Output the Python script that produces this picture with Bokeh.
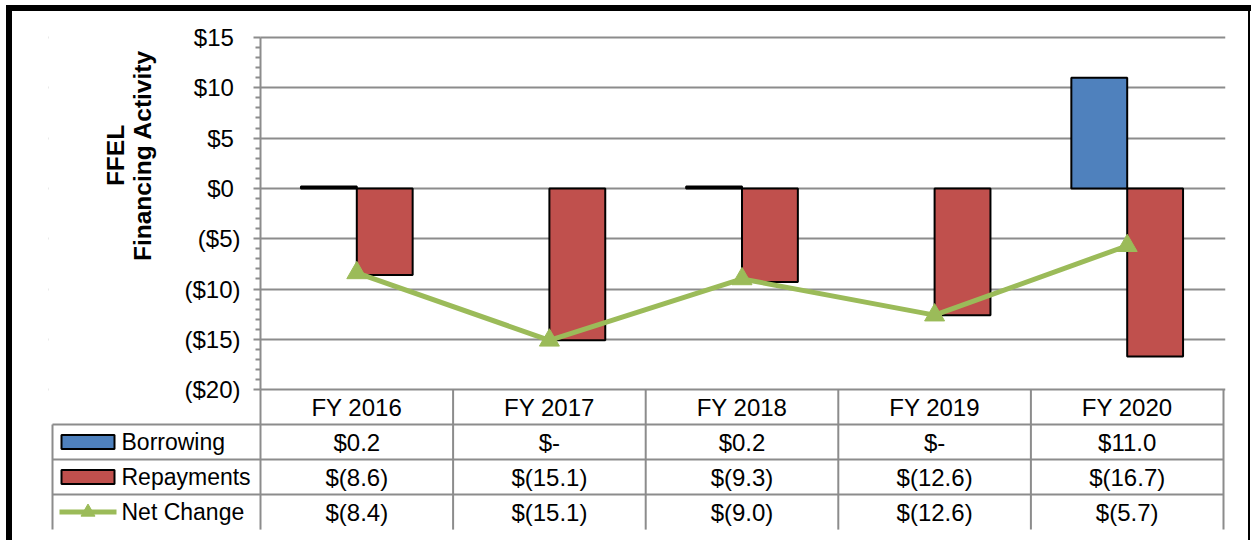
import numpy as np
from bokeh.plotting import figure
from bokeh.models import ColumnDataSource, FixedTicker, LinearAxis, Range1d
from bokeh.transform import dodge
from bokeh.embed import file_html
from bokeh.resources import INLINE
from bokeh.core.properties import value

# ---------------- data ----------------
categories = ["FY 2016", "FY 2017", "FY 2018", "FY 2019", "FY 2020"]
borrowing = [0.2, 0.0, 0.2, 0.0, 11.0]
repayments = [-8.6, -15.1, -9.3, -12.6, -16.7]
net_change = [-8.4, -15.1, -9.0, -12.6, -5.7]
series_names = ["Borrowing", "Repayments", "Net Change"]
y_ticks = [-20, -15, -10, -5, 0, 5, 10, 15]
y_tick_labels = ["($20)", "($15)", "($10)", "($5)", "$0", "$5", "$10", "$15"]
axis_title = ["FFEL", "Financing Activity"]

# ---------------- style / layout ----------------
BLUE = "#4F81BD"
RED = "#C0504D"
GREEN = "#9BBB59"
GRID = "#8C8C8C"
FONT = "Liberation Sans"
FS = "24px"
W, H = 1251, 540
BW = 0.29            # bar width (category units)
PX = 192.6           # pixels per category
PY = 10.06           # pixels per dollar
ROW = 35 / PY        # table row height in y units
YMIN, YMAX = y_ticks[0], y_ticks[-1]
AX = 260             # pixel x of the value axis
Y15 = 37             # pixel y of the top tick
FL, FR, FT, FB = 48, 1225, 14, 540   # frame edges (pixels)

n = len(categories)
nrows = len(series_names)
xc = np.arange(n) + 0.5
x_leg = -(AX - 52) / PX          # left edge of the table legend column
x_start = -(AX - FL) / PX
x_end = (FR - AX) / PX
y_top = YMAX + (Y15 - FT) / PY
y_bot = y_top - (FB - FT) / PY


def fmt(v):
    if v == 0:
        return "$-"
    if v < 0:
        return "$(%.1f)" % (-v)
    return "$%.1f" % v


p = figure(width=W, height=H,
           x_range=Range1d(x_start, x_end), y_range=Range1d(y_bot, y_top),
           output_backend="svg", toolbar_location=None,
           x_axis_location=None, y_axis_location=None,
           min_border_left=FL, min_border_right=W - FR, min_border_top=FT, min_border_bottom=H - FB,
           outline_line_color=None, background_fill_color="white", border_fill_color=None)
# outer black frame of the original picture (thick top/left, thin right)
p.styles = {
    "background-color": "white",
    "background-image": "linear-gradient(#000,#000), linear-gradient(#000,#000), linear-gradient(#000,#000)",
    "background-size": "1245px 6px, 6px 540px, 2px 540px",
    "background-position": "6px 5px, 6px 5px, 1248px 5px",
    "background-repeat": "no-repeat",
}

# y axis drawn at the category origin
ticker = FixedTicker(ticks=y_ticks, minor_ticks=[v for v in range(YMIN, YMAX + 1) if v % 5])
ax = LinearAxis(fixed_location=0, ticker=ticker, bounds=(YMIN, YMAX))
# positive labels keep a parenthesis-wide pad, like the accounting format
ax.major_label_overrides = {t: (l if l.endswith(")") else l + "\u00a0")
                            for t, l in zip(y_ticks, y_tick_labels)}
ax.axis_line_color = GRID
ax.axis_line_width = 2
ax.major_tick_line_color = GRID
ax.major_tick_line_width = 2
ax.minor_tick_line_color = GRID
ax.minor_tick_line_width = 2
ax.major_tick_in = 0
ax.major_tick_out = 7
ax.minor_tick_in = 0
ax.minor_tick_out = 5
ax.major_label_standoff = 13
ax.major_label_text_font = FONT
ax.major_label_text_font_size = FS
ax.major_label_text_color = "black"
p.add_layout(ax, "left")

p.xgrid.visible = False
p.ygrid.ticker = ticker
p.ygrid.grid_line_color = GRID
p.ygrid.grid_line_width = 2

# hide gridlines to the left of the plot area
p.quad(left=[x_start], right=[0], bottom=[YMIN - 0.25], top=[y_top],
       fill_color="white", line_color=None)

# ---------------- bars and line ----------------
src = ColumnDataSource(dict(
    x=xc, b=borrowing, r=repayments, nc=net_change,
    bla=[1.0 if v != 0 else 0.0 for v in borrowing],
    rla=[1.0 if v != 0 else 0.0 for v in repayments],
))
p.vbar(x=dodge("x", -BW / 2), width=BW, top="b", bottom=0, source=src,
       fill_color=BLUE, line_color="black", line_width=2, line_alpha="bla")
p.vbar(x=dodge("x", BW / 2), width=BW, top=0, bottom="r", source=src,
       fill_color=RED, line_color="black", line_width=2, line_alpha="rla")
p.line("x", "nc", source=src, line_color=GREEN, line_width=5)
p.scatter("x", "nc", source=src, marker="triangle", size=20,
          fill_color=GREEN, line_color=GREEN)

# axis title
p.text(x=[-(AX - 115) / PX, -(AX - 142) / PX], y=[YMAX - 118 / PY] * 2, text=axis_title,
       angle=np.pi / 2, text_align="center", text_baseline="middle",
       text_font=value(FONT), text_font_size="24.5px", text_font_style="bold",
       text_color="black")

# ---------------- data table ----------------
yb = [YMIN - k * ROW for k in range(nrows + 2)]   # row boundaries
# horizontal lines
p.segment(x0=[x_leg] * nrows, y0=yb[1:], x1=[n] * nrows, y1=yb[1:],
          line_color=GRID, line_width=2)
# vertical lines
vx = list(range(n + 1)) + [x_leg]
vy1 = [yb[0]] * (n + 1) + [yb[1]]
p.segment(x0=vx, y0=[yb[-1]] * len(vx), x1=vx, y1=vy1, line_color=GRID, line_width=2)

# header
p.text(x=list(xc), y=[yb[0] - ROW / 2] * n, text=categories, text_align="center",
       text_baseline="middle", text_font=value(FONT), text_font_size=FS, text_color="black")

# values
for i, vals in enumerate([borrowing, repayments, net_change]):
    p.text(x=list(xc), y=[yb[i + 1] - ROW / 2] * n, text=[fmt(v) for v in vals],
           text_align="center", text_baseline="middle", text_font=value(FONT),
           text_font_size=FS, text_color="black")

# legend column
row_y = [yb[i + 1] - ROW / 2 for i in range(nrows)]
p.rect(x=[x_leg + 35.5 / PX] * 2, y=row_y[:2], width=53, height=14,
       width_units="screen", height_units="screen",
       fill_color=[BLUE, RED], line_color="black", line_width=2)
p.segment(x0=[x_leg + 7 / PX], y0=[row_y[2]], x1=[x_leg + 64 / PX], y1=[row_y[2]],
          line_color=GREEN, line_width=5)
p.scatter(x=[x_leg + 35.5 / PX], y=[row_y[2]], marker="triangle", size=14,
          fill_color=GREEN, line_color=GREEN)
p.text(x=[x_leg + 69 / PX] * nrows, y=row_y, text=series_names, text_align="left",
       text_baseline="middle", text_font=value(FONT), text_font_size="23px",
       text_color="black")

open("out.html", "w").write(file_html(p, INLINE))
